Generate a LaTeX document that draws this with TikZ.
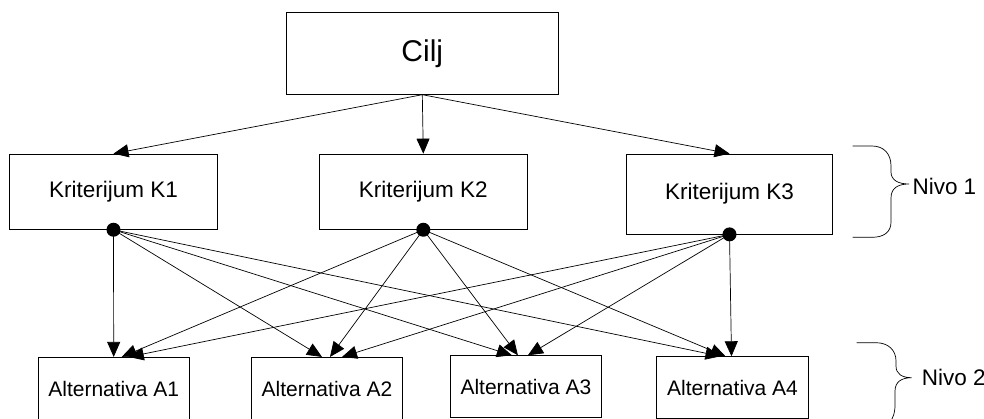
\documentclass[tikz,border=0pt]{standalone}
\usepackage{fontspec}
\setmainfont{Liberation Sans}
\usetikzlibrary{arrows.meta}

\begin{document}
\begin{tikzpicture}[x=1pt,y=-1pt,
  box/.style={draw, rectangle, line width=0.8pt, inner sep=0pt},
  goal/.style={box, font=\fontsize{30}{34}\selectfont},
  crit/.style={box, font=\fontsize{22.5}{26}\selectfont},
  alt/.style={box, font=\fontsize{21}{24}\selectfont},
  link/.style={line width=0.7pt, -{Triangle[length=15pt,width=13pt]}},
  hub/.style={circle, fill=black, inner sep=0pt, minimum size=14pt},
  brace/.style={line width=0.7pt},
  level/.style={anchor=west, inner sep=0pt, font=\fontsize{22.5}{26}\selectfont},
  ]
\useasboundingbox (0,0) rectangle (984,419);
\clip (0,0) rectangle (984,419);

% goal
\node[goal, minimum width=271.3pt, minimum height=81.6pt] (cilj) at (422.3,53.5) {Cilj};

% criteria
\node[crit, minimum width=208.4pt, minimum height=75.3pt] (k1) at (113.5,191.7) {Kriterijum K1};
\node[crit, minimum width=208pt, minimum height=75.3pt] (k2) at (423.3,191.7) {Kriterijum K2};
\node[crit, minimum width=205.6pt, minimum height=80pt] (k3) at (729.5,194) {Kriterijum K3};

% alternatives
\node[alt, minimum width=150.7pt, minimum height=62.5pt] (a1) at (113.7,388.6) {Alternativa A1};
\node[alt, minimum width=150.6pt, minimum height=62.5pt] (a2) at (327,388.6) {Alternativa A2};
\node[alt, minimum width=150.3pt, minimum height=62pt] (a3) at (525.9,386.7) {Alternativa A3};
\node[alt, minimum width=151.6pt, minimum height=61.6pt] (a4) at (732.5,387.5) {Alternativa A4};

% goal to criteria
\draw[link] (cilj.south) -- (k1.north);
\draw[link] (cilj.south) -- (k2.north);
\draw[link] (cilj.south) -- (k3.north);

% hubs under the criteria
\node[hub] (h1) at (k1.south) {};
\node[hub] (h2) at (k2.south) {};
\node[hub] (h3) at (k3.south) {};

% criteria to alternatives
\draw[link] (h1.center) -- (a1.north);
\draw[link] (h1.center) -- ([xshift=-5pt]a2.north);
\draw[link] (h1.center) -- ([xshift=-14pt]a3.north);
\draw[link] (h1.center) -- ([xshift=-12pt]a4.north);

\draw[link] (h2.center) -- ([xshift=8pt]a1.north);
\draw[link] (h2.center) -- ([xshift=3pt]a2.north);
\draw[link] (h2.center) -- ([xshift=-8pt]a3.north);
\draw[link] (h2.center) -- ([xshift=-7pt]a4.north);

\draw[link] (h3.center) -- ([xshift=15pt]a1.north);
\draw[link] (h3.center) -- ([xshift=15pt]a2.north);
\draw[link] (h3.center) -- ([xshift=2pt]a3.north);
\draw[link] (h3.center) -- ([xshift=-1pt]a4.north);

% level braces
\draw[brace] (852.7,146) -- (872,146)
  .. controls (884,146) and (891,154) .. (891,166) -- (891,172)
  .. controls (891,180) and (898,184) .. (909,184)
  .. controls (898,184) and (891,188) .. (891,198) -- (891,222)
  .. controls (891,232) and (884,237.3) .. (872,237.3) -- (852.7,237.3);
\node[level] (n1) at (912.3,186) {Nivo 1};

\draw[brace] (856.7,342.7) -- (876,342.7)
  .. controls (888,342.7) and (896,350) .. (896,361) -- (896,366)
  .. controls (896,374) and (902,377.7) .. (911.7,377.7)
  .. controls (902,377.7) and (895,381.5) .. (895,391) -- (895,405)
  .. controls (895,420) and (888,427) .. (876,427) -- (856.7,427);
\node[level] (n2) at (921.7,377.7) {Nivo 2};
\end{tikzpicture}
\end{document}
